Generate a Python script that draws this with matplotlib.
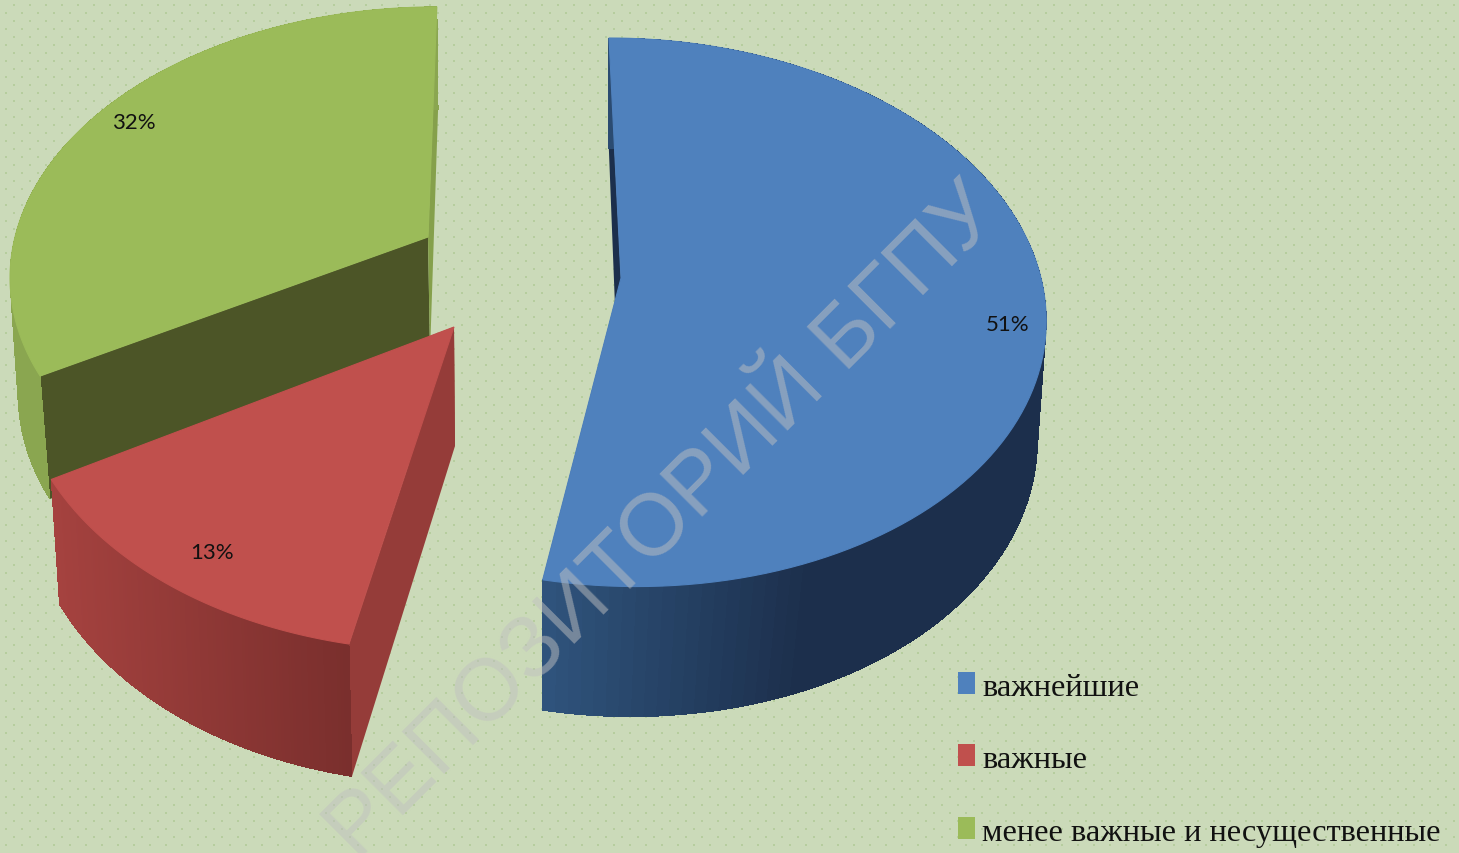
"""Exploded 3D pie, drawn in pixel coordinates of the picture."""

import numpy as np
from matplotlib import pyplot as plt
from matplotlib.collections import PolyCollection
from matplotlib.colors import to_rgb
from matplotlib.patches import Polygon, Rectangle

plt.rcParams["font.family"] = ["Liberation Serif", "DejaVu Serif"]

W, H = 1459, 854

categories = ["важнейшие", "важные", "менее важные и несущественные"]
values = [51, 13, 32]
top_colors = ["#4F81BD", "#C0504D", "#9BBB59"]

# projection of each slice: cx, cy, rx, ry, shear, depth of perspective
top_rim = [
    (621, 279, 420, 270, -13.5, 8.0),
    (454, 328, 434, 288, 9.1, 9.0),
    (428, 238, 413, 260, 10.0, 7.7),
]
low_rim = [
    (619, 410, 416, 282, -11.0, 12.0),
    (455, 447, 425, 298, 8.4, 8.5),
    (430, 355, 408, 273, 9.0, 8.5),
]
# wall shading: x where it starts, x where it ends, colours at both
wall_shade = [
    (542, 800, "#30557E", "#1C2F4C"),
    (60, 350, "#A5423F", "#7A2F2D"),
    (0, 450, "#8AA650", "#8AA650"),
]
start_face = ["#1C2F4C", "#953C39", "#4C5527"]
end_face = ["#1C2F4C", "#953C39", "#85A04B"]
draw_order = [2, 0, 1]

label_pos = [(1008, 325), (212, 553), (134, 123)]
legend_y = [684, 756, 829]


def project(angle, rim):
    cx, cy, rx, ry, shear, d = rim
    a = np.radians(angle)
    x, y = np.sin(a), np.cos(a)
    s = d / (d + y)
    return np.column_stack((cx + (rx * x + shear * y) * s, cy - ry * y * s))


def mix(c0, c1, t):
    return tuple((1 - t) * np.array(to_rgb(c0)) + t * np.array(to_rgb(c1)))


fig = plt.figure(figsize=(W / 100, H / 100), dpi=100, facecolor="#CBDAB9")
ax = fig.add_axes([0, 0, 1, 1])
ax.set_xlim(0, W)
ax.set_ylim(H, 0)
ax.axis("off")

# dotted background
dots_x, dots_y = [], []
for row in range(6, H, 8):
    shift = 14 if (row - 6) % 16 == 0 else 6
    for col in range(shift, W, 16):
        dots_x.append(col)
        dots_y.append(row)
ax.scatter(dots_x, dots_y, s=2.2, marker="s", color="#B6CD9E", linewidths=0, zorder=1)

edges = np.cumsum([0] + values) / sum(values) * 360

z = 2
for i in draw_order:
    a0, a1 = edges[i], edges[i + 1]
    angles = np.linspace(a0, a1, 121)
    upper = project(angles, top_rim[i])
    lower = project(angles, low_rim[i])
    apex_up = top_rim[i][:2]
    apex_low = low_rim[i][:2]

    # cut faces first, the wall and the top hide whatever faces away
    ax.add_patch(Polygon([apex_up, upper[0], lower[0], apex_low], closed=True,
                         facecolor=start_face[i], edgecolor="none", zorder=z))
    ax.add_patch(Polygon([apex_up, upper[-1], lower[-1], apex_low], closed=True,
                         facecolor=end_face[i], edgecolor="none", zorder=z))
    z += 1

    x0, x1, c0, c1 = wall_shade[i]
    quads, colors = [], []
    for k in range(len(angles) - 1):
        quads.append([upper[k], upper[k + 1], lower[k + 1], lower[k]])
        t = np.clip((lower[k, 0] - x0) / (x1 - x0), 0, 1)
        colors.append(mix(c0, c1, t))
    ax.add_collection(PolyCollection(quads, facecolors=colors, edgecolors="none",
                                     antialiaseds=False, zorder=z))
    z += 1

    ax.add_patch(Polygon(np.vstack(([apex_up], upper)), closed=True,
                         facecolor=top_colors[i], edgecolor=top_colors[i],
                         linewidth=0.8, zorder=z))
    z += 1

for v, (px, py) in zip(values, label_pos):
    ax.text(px, py, f"{v}%", fontsize=16, color="#111111", ha="center", va="center",
            family=["Lato", "Liberation Sans"], zorder=20)

for name, color, y in zip(categories, top_colors, legend_y):
    ax.add_patch(Rectangle((958, y - 11), 17, 22, facecolor=color, edgecolor="none", zorder=20))
    ax.text(982, y + 5, name, fontsize=23.3, color="#111111", ha="left", va="center", zorder=20)

# repository watermark
ax.text(357, 861, "РЕПОЗИТОРИЙ БГПУ", fontsize=63, color="#C0C0C0", alpha=0.5,
        rotation=45, rotation_mode="anchor", ha="left", va="baseline",
        family=["Liberation Sans", "DejaVu Sans"], zorder=30)

fig.savefig("out.png", dpi=100)
